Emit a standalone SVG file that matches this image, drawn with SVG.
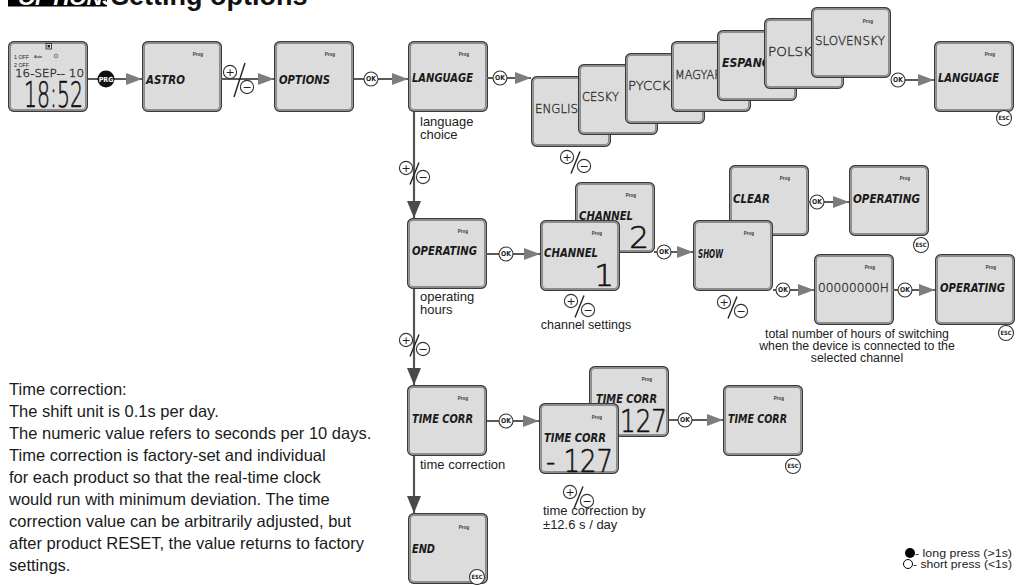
<svg xmlns="http://www.w3.org/2000/svg" xmlns:xlink="http://www.w3.org/1999/xlink" width="1017" height="585" viewBox="0 0 1017 585">
<style>
.seg{font-family:"DejaVu Sans",sans-serif;font-weight:bold;font-style:italic;font-size:13px;fill:#1a1a1a}
.thin{font-family:"DejaVu Sans",sans-serif;font-weight:200;font-size:13px;fill:#222;stroke:#333;stroke-width:0.35}
.big{font-family:"DejaVu Sans",sans-serif;font-weight:200;font-size:34px;fill:#111;stroke:#111;stroke-width:0.6}
.prog{font-family:"Liberation Sans",sans-serif;font-weight:bold;font-size:4.5px;fill:#333;text-anchor:middle}
.lbl{font-family:"Liberation Sans",Arial,sans-serif;font-size:13px;fill:#222}
.para{font-family:"Liberation Sans",Arial,sans-serif;font-size:16.5px;fill:#1a1a1a}
.leg{font-family:"Liberation Sans",Arial,sans-serif;font-size:11px;fill:#222}
.btn{font-family:"DejaVu Sans Condensed","DejaVu Sans",sans-serif;font-weight:bold;font-size:6.8px;fill:#222;text-anchor:middle}
.sgn{font-family:"DejaVu Sans",sans-serif;font-size:11px;fill:#222;text-anchor:middle}
.ln{fill:none;stroke:#5a5a5a;stroke-width:2}
.lnv{fill:none;stroke:#555;stroke-width:2.2}
.c{fill:#fff;stroke:#333;stroke-width:1.1}
</style>
<defs>
<g id="box">
<rect x="0.7" y="0.7" width="78.6" height="69.6" rx="5" fill="#dcdcdc" stroke="#3a3a3a" stroke-width="1.4"/>
<rect x="2.4" y="2.4" width="75.2" height="66.2" rx="3.5" fill="none" stroke="#8c8c8c" stroke-width="1.2"/>
</g>
<g id="ok"><circle class="c" r="7"/><text class="btn" y="2.4">OK</text></g>
<g id="esc"><circle class="c" r="7.5"/><text class="btn" y="2.2" style="font-size:5.8px">ESC</text></g>
<g id="pm">
<circle class="c" r="6.6"/><text class="sgn" y="3.8">+</text>
<circle class="c" cx="17" cy="9" r="6.6"/><text class="sgn" x="17" y="12.8">−</text>
<line x1="4" y1="16.5" x2="13" y2="-5.5" stroke="#222" stroke-width="1.4"/>
</g>
<marker id="ah" markerUnits="userSpaceOnUse" markerWidth="17" markerHeight="12" refX="16" refY="6" orient="auto"><path d="M0,0 L16,6 L0,12 z" fill="#7d7d7d"/></marker>
<marker id="ahd" markerUnits="userSpaceOnUse" markerWidth="18" markerHeight="14" refX="17" refY="7" orient="auto"><path d="M0,0 L17,7 L0,14 z" fill="#4a4a4a"/></marker>
</defs>
<rect width="1017" height="585" fill="#fff"/>

<g id="header">
<rect x="8" y="-2" width="99" height="8.5" fill="#000"/>
<text x="18" y="5" style="font-family:'Liberation Sans',sans-serif;font-weight:bold;font-style:italic;font-size:22px;fill:#fff">OPTIONS</text>
<text x="111" y="5" style="font-family:'Liberation Sans',sans-serif;font-weight:bold;font-size:27px;fill:#111">Setting options</text>
</g>

<g id="lcd0">
<use xlink:href="#box" x="8" y="41"/>
<rect x="46" y="43.5" width="5.5" height="5.5" fill="none" stroke="#222" stroke-width="0.8"/>
<rect x="47.5" y="45" width="2.5" height="2.5" fill="#222"/>
<text x="14" y="58.5" textLength="15" lengthAdjust="spacingAndGlyphs" style="font-family:'Liberation Sans',sans-serif;font-size:6px;fill:#222">1 OFF</text>
<text x="34" y="57.5" style="font-family:'Liberation Sans',sans-serif;font-weight:bold;font-size:3.5px;fill:#333">Auto</text>
<circle cx="56" cy="56" r="1.8" fill="none" stroke="#333" stroke-width="0.6"/>
<text x="14" y="66.5" textLength="15" lengthAdjust="spacingAndGlyphs" style="font-family:'Liberation Sans',sans-serif;font-size:6px;fill:#222">2 OFF</text>
<text class="thin" x="15" y="77" textLength="69" lengthAdjust="spacingAndGlyphs" style="font-size:10.5px">16-SEP-- 10</text>
<text class="big" x="24" y="107" textLength="59" lengthAdjust="spacingAndGlyphs" style="font-size:35px">18:52</text>
</g>

<g id="astro"><use xlink:href="#box" x="142" y="41"/><text class="prog" x="198" y="56">Prog</text><text class="seg" x="146" y="84" textLength="39" lengthAdjust="spacingAndGlyphs">ASTRO</text></g>
<g id="options"><use xlink:href="#box" x="274" y="41"/><text class="prog" x="330" y="56">Prog</text><text class="seg" x="279" y="84" textLength="51" lengthAdjust="spacingAndGlyphs">OPTIONS</text></g>
<g id="language"><use xlink:href="#box" x="408" y="41"/><text class="prog" x="464" y="56">Prog</text><text class="seg" x="412" y="82" textLength="61" lengthAdjust="spacingAndGlyphs">LANGUAGE</text></g>

<g id="lang-en"><use xlink:href="#box" x="531" y="76"/><text class="thin" x="535" y="113" textLength="52" lengthAdjust="spacingAndGlyphs">ENGLISH</text></g>
<g id="lang-cs"><use xlink:href="#box" x="578" y="64"/><text class="thin" x="582" y="101" textLength="37" lengthAdjust="spacingAndGlyphs">CESKY</text></g>
<g id="lang-ru"><use xlink:href="#box" x="625" y="53"/><text class="thin" x="628" y="90" textLength="46" lengthAdjust="spacingAndGlyphs">PYCCKI</text></g>
<g id="lang-hu"><use xlink:href="#box" x="671" y="41"/><text class="thin" x="675" y="79" textLength="47" lengthAdjust="spacingAndGlyphs">MAGYAR</text></g>
<g id="lang-es"><use xlink:href="#box" x="717" y="30"/><text class="seg" x="722" y="67" textLength="56" lengthAdjust="spacingAndGlyphs">ESPANOL</text></g>
<g id="lang-pl"><use xlink:href="#box" x="764" y="18"/><text class="thin" x="768" y="56" textLength="48" lengthAdjust="spacingAndGlyphs">POLSKI</text></g>
<g id="lang-sk"><use xlink:href="#box" x="811" y="7"/><text class="prog" x="868" y="23">Prog</text><text class="thin" x="815" y="45" textLength="70" lengthAdjust="spacingAndGlyphs">SLOVENSKY</text></g>

<g id="language2"><use xlink:href="#box" x="934" y="41"/><text class="prog" x="990" y="56">Prog</text><text class="seg" x="938" y="82" textLength="61" lengthAdjust="spacingAndGlyphs">LANGUAGE</text></g>

<g id="operating"><use xlink:href="#box" x="407" y="218"/><text class="prog" x="463" y="233">Prog</text><text class="seg" x="412" y="255" textLength="65" lengthAdjust="spacingAndGlyphs">OPERATING</text></g>

<g id="channel2"><use xlink:href="#box" x="575" y="182"/><text class="prog" x="631" y="197">Prog</text><text class="seg" x="579" y="220" textLength="54" lengthAdjust="spacingAndGlyphs">CHANNEL</text><text class="big" x="649" y="248" text-anchor="end" style="font-size:31px">2</text></g>
<g id="channel1"><use xlink:href="#box" x="540" y="220"/><text class="prog" x="597" y="235">Prog</text><text class="seg" x="544" y="257" textLength="54" lengthAdjust="spacingAndGlyphs">CHANNEL</text><text class="big" x="614" y="286" text-anchor="end" style="font-size:31px">1</text></g>

<g id="clear"><use xlink:href="#box" x="729" y="165"/><text class="prog" x="785" y="180">Prog</text><text class="seg" x="733" y="203" textLength="37" lengthAdjust="spacingAndGlyphs">CLEAR</text></g>
<g id="show"><use xlink:href="#box" x="693" y="220"/><text class="prog" x="749" y="235">Prog</text><text class="seg" x="698" y="258" textLength="25" lengthAdjust="spacingAndGlyphs">SHOW</text></g>
<g id="operating2"><use xlink:href="#box" x="849" y="165"/><text class="prog" x="905" y="180">Prog</text><text class="seg" x="853" y="203" textLength="67" lengthAdjust="spacingAndGlyphs">OPERATING</text></g>
<g id="hours"><use xlink:href="#box" x="814" y="254"/><text class="prog" x="870" y="269">Prog</text><text class="thin" x="818" y="292" textLength="71" lengthAdjust="spacingAndGlyphs">00000000H</text></g>
<g id="operating3"><use xlink:href="#box" x="935" y="254"/><text class="prog" x="991" y="269">Prog</text><text class="seg" x="940" y="292" textLength="65" lengthAdjust="spacingAndGlyphs">OPERATING</text></g>

<g id="timecorr"><use xlink:href="#box" x="407" y="385"/><text class="prog" x="463" y="400">Prog</text><text class="seg" x="412" y="423" textLength="61" lengthAdjust="spacingAndGlyphs">TIME CORR</text></g>
<g id="timecorr-plus"><use xlink:href="#box" x="589" y="366"/><text class="prog" x="647" y="381">Prog</text><text class="seg" x="596" y="403" textLength="61" lengthAdjust="spacingAndGlyphs">TIME CORR</text><text class="big" x="667" y="432" text-anchor="end" textLength="47" lengthAdjust="spacingAndGlyphs" style="font-size:32px">127</text></g>
<g id="timecorr-minus"><use xlink:href="#box" x="539" y="403"/><text class="prog" x="597" y="419">Prog</text><text class="seg" x="544" y="442" textLength="62" lengthAdjust="spacingAndGlyphs">TIME CORR</text><text class="big" x="546" y="472" textLength="67" lengthAdjust="spacingAndGlyphs" style="font-size:32px">- 127</text></g>
<g id="timecorr2"><use xlink:href="#box" x="723" y="385"/><text class="prog" x="779" y="400">Prog</text><text class="seg" x="728" y="423" textLength="59" lengthAdjust="spacingAndGlyphs">TIME CORR</text></g>
<g id="end"><use xlink:href="#box" x="408" y="513"/><text class="prog" x="464" y="529">Prog</text><text class="seg" x="412" y="553" textLength="23" lengthAdjust="spacingAndGlyphs">END</text></g>

<g id="connectors">
<path class="ln" d="M88,79 H142" marker-end="url(#ah)"/>
<path class="ln" d="M221,79 H274" marker-end="url(#ah)"/>
<path class="ln" d="M354,79 H408" marker-end="url(#ah)"/>
<path class="ln" d="M487,78 H531" marker-end="url(#ah)"/>
<path class="ln" d="M891,80 H934" marker-end="url(#ah)"/>
<path class="ln" d="M486,254 H540" marker-end="url(#ah)"/>
<path class="ln" d="M654,252 H693" marker-end="url(#ah)"/>
<path class="ln" d="M808,202 H849" marker-end="url(#ah)"/>
<path class="ln" d="M773,290 H814" marker-end="url(#ah)"/>
<path class="ln" d="M893,290 H935" marker-end="url(#ah)"/>
<path class="ln" d="M487,421 H539" marker-end="url(#ah)"/>
<path class="ln" d="M669,420 H723" marker-end="url(#ah)"/>
<path class="lnv" d="M414,112 V218" marker-end="url(#ahd)"/>
<path class="lnv" d="M414,289 V385" marker-end="url(#ahd)"/>
<path class="lnv" d="M414,456 V513" marker-end="url(#ahd)"/>

<circle cx="106" cy="79" r="8.5" fill="#111"/>
<text class="btn" x="106" y="81.6" style="fill:#fff;font-size:7px">PRG</text>

<g id="pm-row1">
<circle class="c" cx="230" cy="72" r="6.6"/><text class="sgn" x="230" y="75.8">+</text>
<circle class="c" cx="247" cy="87" r="6.6"/><text class="sgn" x="247" y="90.8">−</text>
<line x1="234" y1="97" x2="245" y2="63" stroke="#222" stroke-width="1.4"/>
</g>

<use xlink:href="#ok" x="371" y="79"/>
<use xlink:href="#ok" x="500" y="78"/>
<use xlink:href="#ok" x="898" y="80"/>
<use xlink:href="#ok" x="506" y="254"/>
<use xlink:href="#ok" x="664" y="252"/>
<use xlink:href="#ok" x="817" y="202"/>
<use xlink:href="#ok" x="783" y="290"/>
<use xlink:href="#ok" x="905" y="290"/>
<use xlink:href="#ok" x="506" y="421"/>
<use xlink:href="#ok" x="685" y="420"/>

<use xlink:href="#esc" x="1004" y="118"/>
<use xlink:href="#esc" x="921" y="245"/>
<use xlink:href="#esc" x="1006" y="333"/>
<use xlink:href="#esc" x="793" y="466"/>
<use xlink:href="#esc" x="477" y="577"/>

<use xlink:href="#pm" x="406" y="168"/>
<use xlink:href="#pm" x="406" y="340"/>
<use xlink:href="#pm" x="567" y="157"/>
<use xlink:href="#pm" x="571" y="301"/>
<use xlink:href="#pm" x="724" y="302"/>
<use xlink:href="#pm" x="570" y="492"/>
</g>

<g id="labels">
<text class="lbl" x="420" y="126">language</text>
<text class="lbl" x="420" y="139">choice</text>
<text class="lbl" x="420" y="301">operating</text>
<text class="lbl" x="420" y="314">hours</text>
<text class="lbl" x="586" y="329" text-anchor="middle" style="font-size:12.5px">channel settings</text>
<text class="lbl" x="857" y="338" text-anchor="middle" style="font-size:12.3px">total number of hours of switching</text>
<text class="lbl" x="857" y="350" text-anchor="middle" style="font-size:12.3px">when the device is connected to the</text>
<text class="lbl" x="857" y="362" text-anchor="middle" style="font-size:12.3px">selected channel</text>
<text class="lbl" x="420" y="469">time correction</text>
<text class="lbl" x="543" y="515">time correction by</text>
<text class="lbl" x="543" y="529">±12.6 s / day</text>
</g>

<g id="note">
<text class="para" x="9" y="395">Time correction:</text>
<text class="para" x="9" y="417">The shift unit is 0.1s per day.</text>
<text class="para" x="9" y="439">The numeric value refers to seconds per 10 days.</text>
<text class="para" x="9" y="461">Time correction is factory-set and individual</text>
<text class="para" x="9" y="483">for each product so that the real-time clock</text>
<text class="para" x="9" y="505">would run with minimum deviation. The time</text>
<text class="para" x="9" y="527">correction value can be arbitrarily adjusted, but</text>
<text class="para" x="9" y="549">after product RESET, the value returns to factory</text>
<text class="para" x="9" y="571">settings.</text>
</g>

<g id="legend">
<circle cx="910" cy="553" r="5" fill="#000"/>
<text class="leg" x="915" y="557" textLength="97" lengthAdjust="spacingAndGlyphs">- long press (&gt;1s)</text>
<circle cx="908" cy="564" r="4.5" fill="#fff" stroke="#000" stroke-width="1"/>
<text class="leg" x="913" y="568" textLength="99" lengthAdjust="spacingAndGlyphs">- short press (&lt;1s)</text>
</g>
</svg>
